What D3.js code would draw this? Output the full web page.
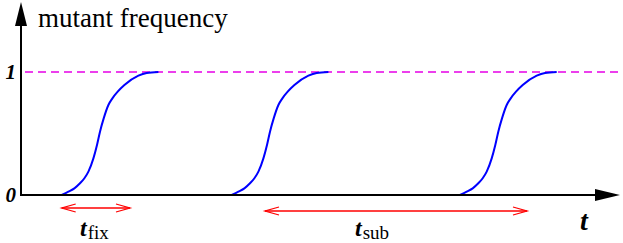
<!DOCTYPE html>
<html>
<head>
<meta charset="utf-8">
<script src="https://cdn.jsdelivr.net/npm/d3@7"></script>
<style>
  html, body { margin: 0; padding: 0; background: #fff; }
  svg { display: block; }
</style>
</head>
<body>
<div id="chart"></div>
<script>
// sweep start times (arbitrary time units)
const sweepStarts = [4.07, 21.07, 43.9];
// shape of one fixation sweep: time since start / mutant frequency
const sweepOffsets = [0, 0.67, 1.27, 1.83, 2.27, 2.67, 3.17, 3.53, 3.83, 4.2, 4.67, 5.07, 5.6, 6.27, 7.67, 8.5, 9.67];
const sweepFreq = [0, 0.027, 0.054, 0.095, 0.136, 0.19, 0.298, 0.407, 0.515, 0.623, 0.732, 0.786, 0.84, 0.894, 0.97, 0.992, 1.0];
// y tick labels
const yTicks = [0, 1];
const yTickLabels = ['0', '1'];
// time spans marked under the axis
const spanNames = ['fix', 'sub'];
const spanFrom = [4.07, 24.4];
const spanTo = [10.9, 50.6];

const width = 623, height = 243;
const serif = '"Liberation Serif", Tinos, "Times New Roman", Times, "DejaVu Serif", serif';
const svg = d3.select('#chart').append('svg')
    .attr('width', width)
    .attr('height', height);

const x = d3.scaleLinear().domain([0, 60]).range([21, 621]);
const y = d3.scaleLinear().domain([0, 1]).range([195, 72]);

// reference line at frequency 1
svg.append('line')
    .attr('x1', 25).attr('x2', width)
    .attr('y1', y(1)).attr('y2', y(1))
    .attr('stroke', '#e600e6')
    .attr('stroke-width', 1.6)
    .attr('stroke-dasharray', '8,5');

// sweeps
const line = d3.line()
    .x(d => x(d[0]))
    .y(d => y(d[1]))
    .curve(d3.curveMonotoneX);

sweepStarts.forEach(s => {
    let pts = sweepOffsets.map((o, i) => [s + o, sweepFreq[i]]);
    svg.append('path')
        .attr('d', line(pts))
        .attr('fill', 'none')
        .attr('stroke', '#0000ff')
        .attr('stroke-width', 2);
});

// axes
let x0 = x(0), y0 = y(0);
svg.append('line')
    .attr('x1', x0).attr('x2', 597)
    .attr('y1', y0).attr('y2', y0)
    .attr('stroke', '#000').attr('stroke-width', 2);
svg.append('path')
    .attr('d', `M620,${y0} L595,${y0 - 6} L595,${y0 + 6} Z`)
    .attr('fill', '#000');
svg.append('line')
    .attr('x1', x0).attr('x2', x0)
    .attr('y1', y0 + 1).attr('y2', 24)
    .attr('stroke', '#000').attr('stroke-width', 2);
svg.append('path')
    .attr('d', `M${x0},2 L${x0 - 6},26 L${x0 + 6},26 Z`)
    .attr('fill', '#000');

svg.selectAll('.ytick')
    .data(yTicks)
    .enter().append('text')
    .attr('class', 'ytick')
    .attr('x', 16)
    .attr('y', d => y(d) + 7)
    .attr('text-anchor', 'end')
    .attr('font-family', serif)
    .attr('font-size', 21)
    .attr('font-weight', 'bold')
    .attr('font-style', 'italic')
    .text((d, i) => yTickLabels[i]);

svg.append('text')
    .attr('x', 38).attr('y', 27)
    .attr('font-family', serif)
    .attr('font-size', 27)
    .text('mutant frequency');

svg.append('text')
    .attr('x', 584).attr('y', 230)
    .attr('text-anchor', 'middle')
    .attr('font-family', serif)
    .attr('font-size', 28)
    .attr('font-weight', 'bold')
    .attr('font-style', 'italic')
    .text('t');

// span arrows
const spanY = [208, 211];
const labelX = [80, 355];
spanNames.forEach((name, i) => {
    let a = x(spanFrom[i]), b = x(spanTo[i]), yy = spanY[i];
    let g = svg.append('g')
        .attr('stroke', '#ff0000')
        .attr('stroke-width', 1.3)
        .attr('fill', 'none');
    g.append('line').attr('x1', a).attr('x2', b).attr('y1', yy).attr('y2', yy);
    g.append('path').attr('d', `M${a + 14},${yy - 4} L${a},${yy} L${a + 14},${yy + 4}`);
    g.append('path').attr('d', `M${b - 14},${yy - 4} L${b},${yy} L${b - 14},${yy + 4}`);

    let t = svg.append('text')
        .attr('x', labelX[i]).attr('y', 236)
        .attr('font-family', serif);
    t.append('tspan')
        .attr('font-size', 24)
        .attr('font-weight', 'bold')
        .attr('font-style', 'italic')
        .text('t');
    t.append('tspan')
        .attr('font-size', 19)
        .attr('dx', 1)
        .attr('dy', 3)
        .text(name);
});
</script>
</body>
</html>
